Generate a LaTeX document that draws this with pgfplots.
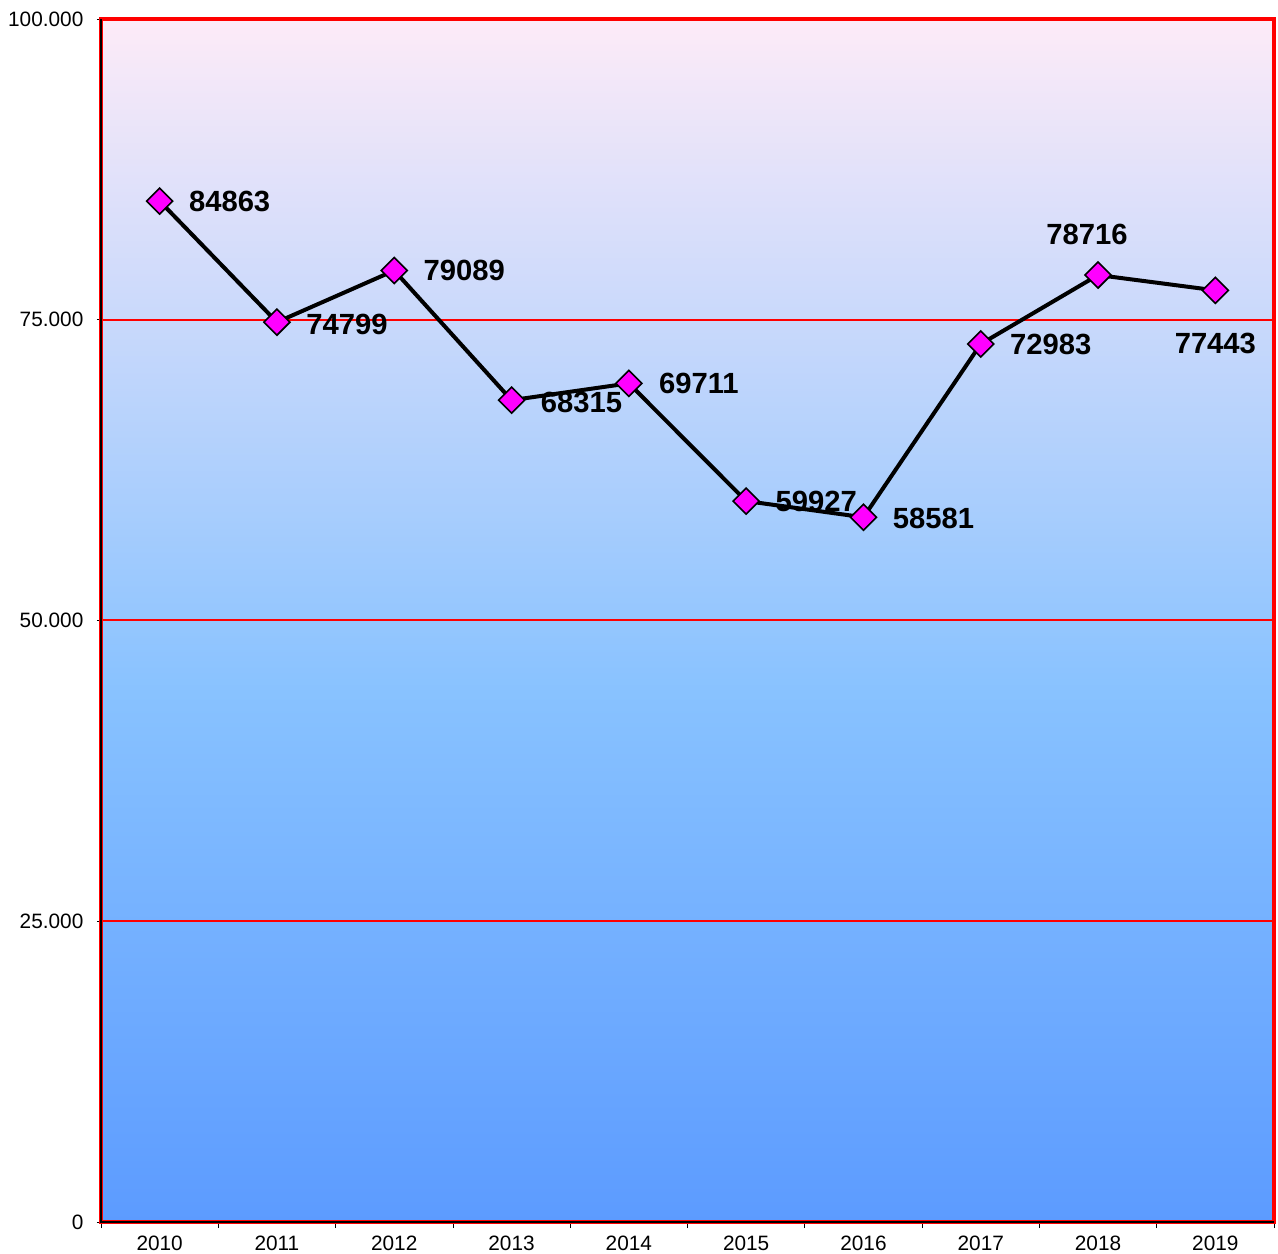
\documentclass[border=0pt]{standalone}
\usepackage{fontspec}
\setmainfont{Liberation Sans}
\usepackage{pgfplots}
\usepackage{pgfplotstable}
\pgfplotsset{compat=1.18}
\definecolor{bgbot}{HTML}{5C9BFF}
\definecolor{bgmid}{HTML}{88C2FF}
\definecolor{bgtop}{HTML}{FDEBF8}
\definecolor{mag}{HTML}{FF00FF}
\pgfdeclareverticalshading{chartbg}{100bp}{color(0bp)=(bgbot); color(25bp)=(bgbot); color(47bp)=(bgmid); color(75bp)=(bgtop); color(100bp)=(bgtop)}
\pgfplotstableread{
x y lbl dx dy
0 84863 84863 35 0
1 74799 74799 35 -1
2 79089 79089 35 0
3 68315 68315 35 -1
4 69711 69711 35 0
5 59927 59927 35 0
6 58581 58581 35 -0.5
7 72983 72983 35 0
8 78716 78716 -5.5 20.5
9 77443 77443 0 -26.5
}\datatable
\begin{document}
\begin{tikzpicture}
\useasboundingbox (-50.5pt,-15.5pt) rectangle (588.5pt,611pt);
\begin{axis}[
  scale only axis, width=586.5pt, height=601.5pt,
  at={(0,0)}, anchor=south west,
  xmin=-0.5, xmax=9.5, ymin=0, ymax=100000,
  axis background/.style={shading=chartbg},
  axis line style={red, line width=2pt},
  tick align=outside,
  xtick pos=bottom, ytick pos=left,
  xtick={0,...,9},
  xticklabels={2010,2011,2012,2013,2014,2015,2016,2017,2018,2019},
  minor xtick={-0.5,0.5,...,9.5},
  every major x tick/.append style={draw=none},
  every minor x tick/.append style={black, line width=0.4pt},
  minor tick length=3pt,
  major tick length=2pt,
  ytick={0,25000,50000,75000,100000},
  yticklabels={0,25.000,50.000,75.000,100.000},
  ytick style={black, line width=0.4pt},
  ymajorgrids,
  major grid style={red, line width=1pt},
  tick label style={font=\fontsize{10.4}{12}\selectfont},
  yticklabel style={xshift=-3.3pt},
  xticklabel style={yshift=-1.5pt},
  clip=false,
]
\addplot[draw=none, mark=none,
  point meta=explicit symbolic,
  visualization depends on={\thisrow{dx} \as \dx},
  visualization depends on={\thisrow{dy} \as \dy},
  nodes near coords,
  nodes near coords style={anchor=center, xshift=\dx pt, yshift=\dy pt,
    font=\fontsize{14.6}{17}\selectfont\bfseries, text=black},
] table[x=x, y=y, meta=lbl] {\datatable};
\addplot[black, line width=2pt, mark=square*, mark size=4.6pt,
  mark options={rotate=45, fill=mag, draw=black, line width=0.8pt, solid}]
  table[x=x, y=y] {\datatable};
\end{axis}
\draw[black, line width=0.7pt] (current axis.north west) -- (current axis.south west) -- (current axis.south east);
\end{tikzpicture}
\end{document}
